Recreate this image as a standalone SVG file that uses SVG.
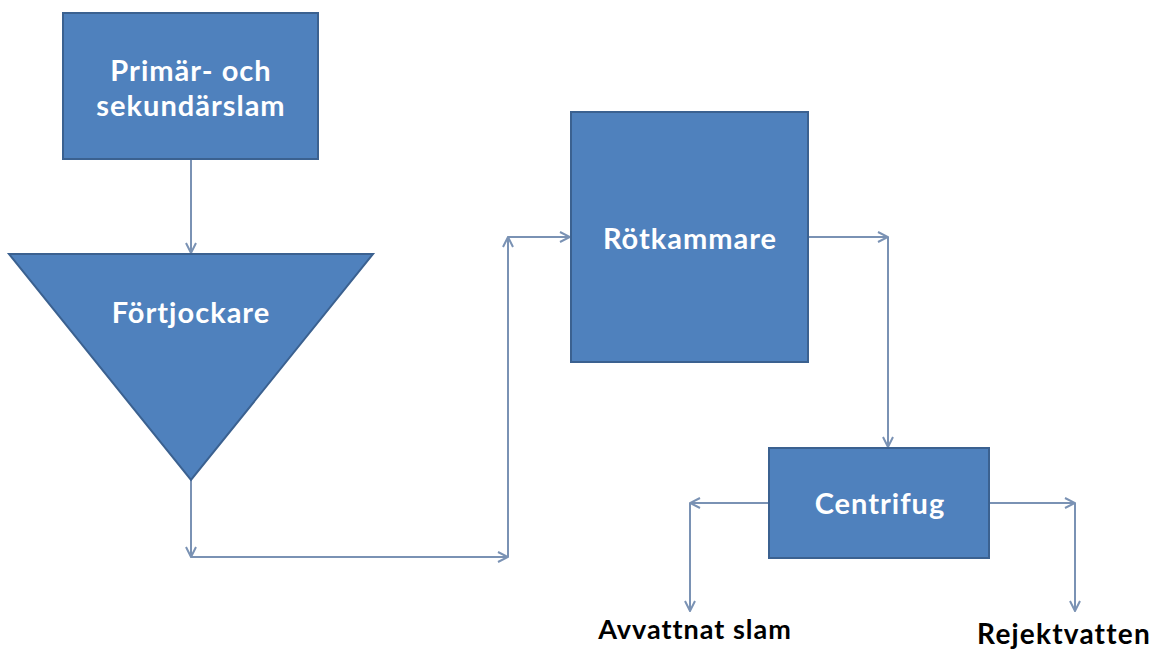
<svg xmlns="http://www.w3.org/2000/svg" width="1153" height="650" viewBox="0 0 1153 650">
<style>
.node{fill:#4F81BD;stroke:#3B6190;stroke-width:2}
.lbl{font-family:Lato,"Open Sans",sans-serif;font-weight:bold;fill:#FFFFFF;font-size:29px;letter-spacing:1px;text-anchor:middle}
.out{font-family:Lato,"Open Sans",sans-serif;font-weight:bold;fill:#000000;font-size:27px;letter-spacing:1px;text-anchor:middle}
.c{fill:none;stroke:#7A92B4;stroke-width:2}
</style>
<defs>
<marker id="ah" viewBox="0 0 12 12" refX="11" refY="6" markerWidth="12" markerHeight="12" markerUnits="userSpaceOnUse" orient="auto">
<path d="M1,1 L11,6 L1,11" fill="none" stroke="#7A92B4" stroke-width="2"/>
</marker>
</defs>
<rect width="1153" height="650" fill="#FFFFFF"/>
<g id="connectors">
<line class="c" x1="191" y1="160" x2="191" y2="253" marker-end="url(#ah)"/>
<line class="c" x1="191" y1="480" x2="191" y2="557" marker-end="url(#ah)"/>
<line class="c" x1="191" y1="557" x2="508" y2="557" marker-end="url(#ah)"/>
<line class="c" x1="508" y1="557" x2="508" y2="237" marker-end="url(#ah)"/>
<line class="c" x1="508" y1="237" x2="570" y2="237" marker-end="url(#ah)"/>
<line class="c" x1="809" y1="237" x2="888" y2="237" marker-end="url(#ah)"/>
<line class="c" x1="888" y1="237" x2="888" y2="447" marker-end="url(#ah)"/>
<line class="c" x1="768" y1="503" x2="690" y2="503" marker-end="url(#ah)"/>
<line class="c" x1="690" y1="503" x2="690" y2="611" marker-end="url(#ah)"/>
<line class="c" x1="990" y1="503" x2="1075" y2="503" marker-end="url(#ah)"/>
<line class="c" x1="1075" y1="503" x2="1075" y2="611" marker-end="url(#ah)"/>
</g>
<g id="primar">
<rect class="node" x="63" y="13" width="255" height="146"/>
<text class="lbl" x="191" y="81">Primär- och</text>
<text class="lbl" x="191" y="116">sekundärslam</text>
</g>
<g id="fortjockare">
<polygon class="node" points="9,254 373,254 191,480"/>
<text class="lbl" x="191" y="323">Förtjockare</text>
</g>
<g id="rotkammare">
<rect class="node" x="571" y="112" width="237" height="250"/>
<text class="lbl" x="690" y="249">Rötkammare</text>
</g>
<g id="centrifug">
<rect class="node" x="769" y="448" width="220" height="110"/>
<text class="lbl" x="880" y="514">Centrifug</text>
</g>
<g id="avvattnat">
<text class="out" x="695" y="639">Avvattnat slam</text>
</g>
<g id="rejekt">
<text class="out" x="1064" y="644" style="font-size:28px;letter-spacing:1.2px">Rejektvatten</text>
</g>
</svg>
